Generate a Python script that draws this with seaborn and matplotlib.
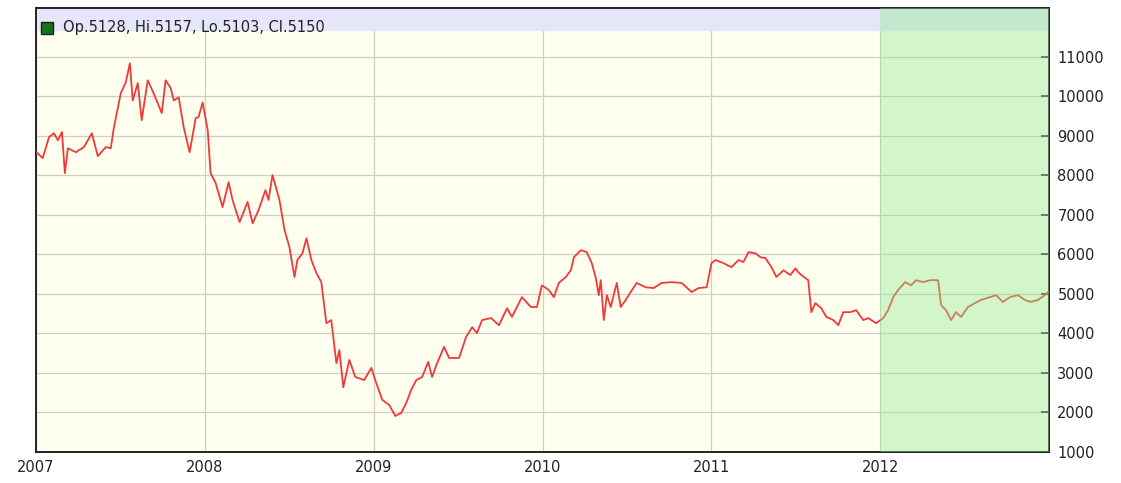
import matplotlib
matplotlib.use("Agg")
import matplotlib.pyplot as plt
import seaborn as sns
import pandas as pd

# time as fractional years, close values
t = [2007.000, 2007.040, 2007.077, 2007.106, 2007.130, 2007.154, 2007.171, 2007.189,
     2007.236, 2007.284, 2007.331, 2007.366, 2007.414, 2007.443, 2007.461, 2007.502,
     2007.532, 2007.556, 2007.573, 2007.603, 2007.626, 2007.662, 2007.697, 2007.745,
     2007.768, 2007.798, 2007.816, 2007.845, 2007.875, 2007.910, 2007.946, 2007.963,
     2007.987, 2008.017, 2008.034, 2008.064, 2008.105, 2008.141, 2008.164, 2008.206,
     2008.253, 2008.283, 2008.318, 2008.359, 2008.377, 2008.401, 2008.442, 2008.472,
     2008.501, 2008.531, 2008.548, 2008.578, 2008.602, 2008.631, 2008.661, 2008.690,
     2008.720, 2008.749, 2008.779, 2008.797, 2008.820, 2008.856, 2008.891, 2008.944,
     2008.986, 2009.015, 2009.051, 2009.092, 2009.128, 2009.163, 2009.193, 2009.222,
     2009.252, 2009.287, 2009.323, 2009.346, 2009.376, 2009.417, 2009.447, 2009.506,
     2009.547, 2009.583, 2009.612, 2009.642, 2009.695, 2009.742, 2009.790, 2009.819,
     2009.878, 2009.931, 2009.967, 2009.996, 2010.038, 2010.067, 2010.097, 2010.138,
     2010.168, 2010.186, 2010.227, 2010.262, 2010.292, 2010.316, 2010.333, 2010.345,
     2010.363, 2010.381, 2010.404, 2010.440, 2010.463, 2010.493, 2010.522, 2010.558,
     2010.611, 2010.658, 2010.706, 2010.765, 2010.824, 2010.883, 2010.924, 2010.972,
     2011.001, 2011.025, 2011.072, 2011.119, 2011.161, 2011.190, 2011.220, 2011.261,
     2011.291, 2011.320, 2011.356, 2011.385, 2011.427, 2011.468, 2011.498, 2011.515,
     2011.533, 2011.574, 2011.592, 2011.616, 2011.651, 2011.681, 2011.722, 2011.752,
     2011.781, 2011.823, 2011.858, 2011.900, 2011.929, 2011.976, 2012.018, 2012.047,
     2012.077, 2012.106, 2012.148, 2012.183, 2012.213, 2012.254, 2012.296, 2012.343,
     2012.361, 2012.390, 2012.420, 2012.449, 2012.479, 2012.520, 2012.561, 2012.597,
     2012.650, 2012.686, 2012.727, 2012.768, 2012.816, 2012.857, 2012.892, 2012.934,
     2012.975, 2012.995]
close = [8600, 8440, 8970, 9070, 8890, 9100, 8060, 8690,
         8590, 8720, 9070, 8490, 8720, 8690, 9200, 10080,
         10360, 10840, 9900, 10340, 9400, 10410, 10080, 9580,
         10410, 10210, 9900, 9980, 9220, 8590, 9450, 9480,
         9850, 9150, 8060, 7810, 7200, 7830, 7380, 6820,
         7330, 6790, 7120, 7630, 7380, 8010, 7380, 6620,
         6190, 5430, 5860, 6030, 6410, 5860, 5530, 5300,
         4260, 4340, 3250, 3580, 2640, 3330, 2900, 2820,
         3130, 2750, 2320, 2190, 1910, 1990, 2240, 2570,
         2820, 2900, 3280, 2900, 3250, 3660, 3380, 3380,
         3910, 4160, 4010, 4340, 4390, 4210, 4640, 4420,
         4920, 4670, 4670, 5220, 5100, 4920, 5280, 5430,
         5600, 5930, 6110, 6060, 5780, 5400, 4970, 5350,
         4340, 4970, 4670, 5280, 4670, 4850, 5050, 5280,
         5170, 5150, 5280, 5300, 5280, 5050, 5150, 5170,
         5780, 5860, 5780, 5680, 5860, 5810, 6060, 6030,
         5930, 5910, 5680, 5430, 5600, 5480, 5650, 5550,
         5480, 5350, 4540, 4770, 4640, 4420, 4340, 4210,
         4540, 4540, 4590, 4340, 4390, 4260, 4390, 4590,
         4920, 5100, 5300, 5220, 5350, 5300, 5350, 5350,
         4720, 4590, 4340, 4540, 4420, 4670, 4770, 4850,
         4920, 4970, 4800, 4920, 4970, 4850, 4800, 4850,
         4970, 5050]

years = [2007, 2008, 2009, 2010, 2011, 2012]
y_ticks = list(range(1000, 12000, 1000))
header = "Op.5128, Hi.5157, Lo.5103, Cl.5150"

df = pd.DataFrame({"t": t, "close": close})

sns.set_style("white")
plt.rcParams["font.family"] = ["DejaVu Sans"]

fig = plt.figure(figsize=(11.21, 4.83), dpi=100)
ax = fig.add_axes([0.0321, 0.0642, 0.9037, 0.9192])
ax.set_facecolor("#fffff0")

sns.lineplot(data=df, x="t", y="close", ax=ax, color="#f03a3a", linewidth=1.3, zorder=3)

# header band and highlighted last year
ax.axhspan(11680, 12240, color="#e6e6fa", zorder=2)
ax.axvspan(2012, 2013, color="#8fea8f", alpha=0.4, linewidth=0, zorder=4)

ax.set_xlim(2007, 2013)
ax.set_ylim(1000, 12240)
ax.set_xticks(years)
ax.set_xticklabels([str(y) for y in years])
ax.yaxis.tick_right()
ax.set_yticks(y_ticks)
ax.set_yticklabels([str(v) for v in y_ticks])
ax.set_xlabel("")
ax.set_ylabel("")

ax.grid(True, color="#cfcfc4", linewidth=0.9)
ax.set_axisbelow(True)
ax.tick_params(axis="y", direction="in", length=6, width=1.2, labelsize=10.5,
               pad=6, colors="#222222")
ax.tick_params(axis="x", direction="out", length=3, width=1.0, labelsize=10.5,
               pad=3, colors="#222222")
for s in ax.spines.values():
    s.set_color("#222222")
    s.set_linewidth(1.4)

ax.plot([0.011], [0.955], marker="s", markersize=8, color="#1d6e1d",
        markeredgecolor="#0a2a0a", transform=ax.transAxes, zorder=6, clip_on=False)
ax.text(0.027, 0.955, header, transform=ax.transAxes, fontsize=10.5,
        color="#222222", va="center", ha="left", zorder=6)

fig.savefig("out.png", dpi=100)
